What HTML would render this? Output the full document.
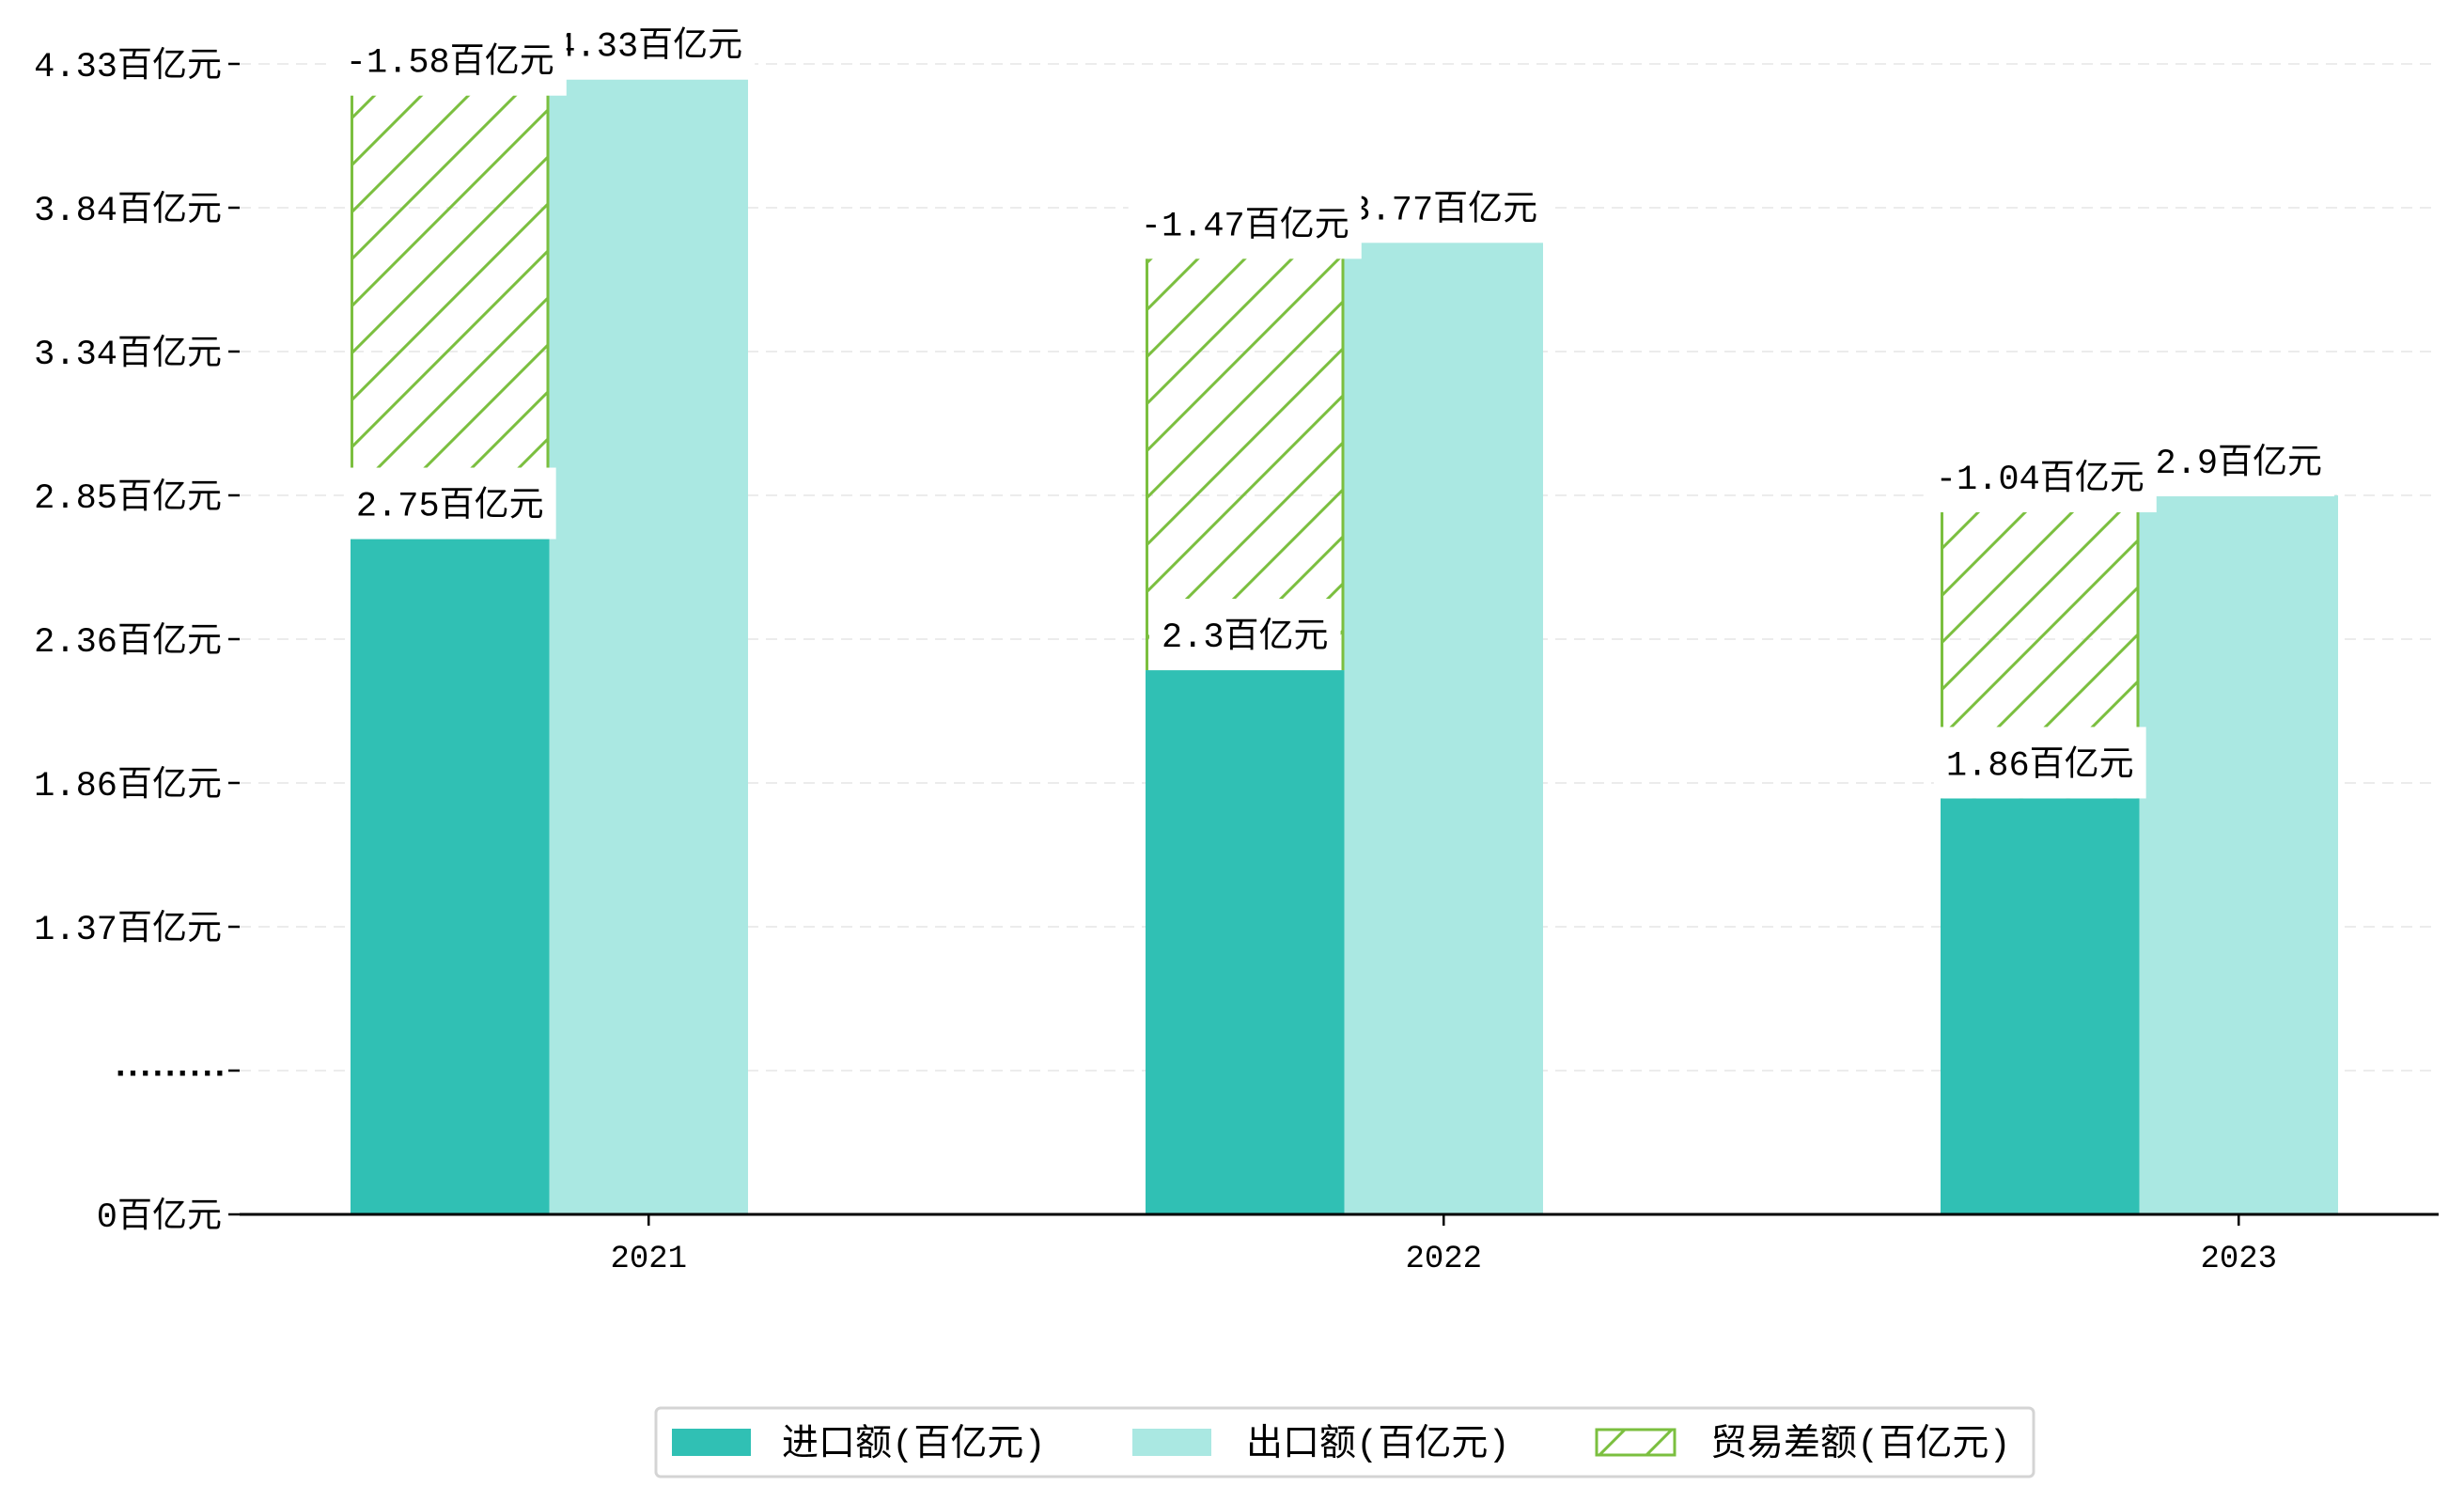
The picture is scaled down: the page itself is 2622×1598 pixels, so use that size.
<!DOCTYPE html>
<html><head><meta charset="utf-8"><style>
html,body{margin:0;padding:0;background:#fff;}
svg{display:block;font-family:"Liberation Mono","WenQuanYi Zen Hei","Noto Sans CJK SC",monospace;}
</style></head><body>
<svg id="chart" width="2622" height="1598" viewBox="0 0 2622 1598" xmlns="http://www.w3.org/2000/svg">
<defs>
<pattern id="hatch" patternUnits="userSpaceOnUse" width="50" height="50">
<line x1="-5" y1="55" x2="55" y2="-5" stroke="#7bbf3f" stroke-width="3"/>
<line x1="-5" y1="5" x2="5" y2="-5" stroke="#7bbf3f" stroke-width="3"/>
<line x1="45" y1="55" x2="55" y2="45" stroke="#7bbf3f" stroke-width="3"/>
</pattern>
</defs>
<g id="grid"></g>
<g id="bars"></g>
<g id="labels"></g>
<g id="axes"></g>
<g>
<rect x="698" y="1498" width="1466" height="73" rx="5" fill="#fff" stroke="#d4d4d4" stroke-width="3"/>
<g>
<rect x="715" y="1520" width="84" height="29" fill="#30c0b4"/>
<text x="832" y="1548" font-size="39">进口额(百亿元)</text></g>
<g>
<rect x="1205" y="1520" width="84" height="29" fill="#aae8e2"/>
<text x="1326" y="1548" font-size="39">出口额(百亿元)</text></g>
<g>
<rect x="1699" y="1521" width="83" height="27" fill="url(#hatch)" stroke="#7bbf3f" stroke-width="3"/>
<text x="1820" y="1548" font-size="39">贸易差额(百亿元)</text></g>
</g>
</svg>
<script>
const categories = ["2021","2022","2023"];
const importVals = [2.75, 2.3, 1.86];
const exportVals = [4.33, 3.77, 2.9];
const balanceVals = [-1.58, -1.47, -1.04];
const yTickLabels = ["0百亿元","·········","1.37百亿元","1.86百亿元","2.36百亿元","2.85百亿元","3.34百亿元","3.84百亿元","4.33百亿元"];

const NS="http://www.w3.org/2000/svg";
const Y0=1292, XL=255, XR=2595, TICKSTEP=153;
const K=310, VOFF=0.4324;
const BW=211.5, X0=373, STEP=846;
function yv(v){return Y0-(v-VOFF)*K;}
function xc(i){return X0+i*STEP;}
function mk(tag,attrs,parent){const e=document.createElementNS(NS,tag);for(const k in attrs)e.setAttribute(k,attrs[k]);parent.appendChild(e);return e;}
const grid=document.getElementById('grid'),bars=document.getElementById('bars'),labels=document.getElementById('labels'),axes=document.getElementById('axes');
function fmt(v){return v+"百亿元";}

yTickLabels.forEach((t,i)=>{
  const y=Y0-i*TICKSTEP;
  if(i>0){const g=mk('line',{x1:XL,x2:XR,y1:y,y2:y,stroke:'#ececec','stroke-width':2,'stroke-dasharray':'12,8'},grid);
  
  }
  const tk=mk('line',{x1:XL-12,x2:XL,y1:y,y2:y,stroke:'#000','stroke-width':2.5},axes);
  
  
  const tx=mk('text',{x:236,y:y+13,'font-size':37,'text-anchor':'end'},axes);
  
  
  if(t.indexOf('·')===0){tx.setAttribute('letter-spacing','-9');tx.setAttribute('font-weight','bold');}
  tx.textContent=t;
});

function labelBox(txt,cx,cy,name){
  const g=mk('g',{},labels);
  
  
  const r=mk('rect',{fill:'#fff'},g);
  const t=mk('text',{x:cx,y:cy+13,'font-size':37,'text-anchor':'middle'},g);
  t.textContent=txt;
  const b=t.getBBox();
  r.setAttribute('x',b.x-13);r.setAttribute('width',b.width+26);
  r.setAttribute('y',cy-38);r.setAttribute('height',76);
}

categories.forEach((c,i)=>{
  const x=xc(i);
  const yi=yv(importVals[i]), ye=yv(exportVals[i]);
  const b1=mk('rect',{x:x,y:yi,width:BW,height:Y0-yi,fill:'#30c0b4'},bars);
  
  
  const b2=mk('rect',{x:x+BW,y:ye,width:BW,height:Y0-ye,fill:'#aae8e2'},bars);
  
  
  const yb=yv(importVals[i]-balanceVals[i]);
  const b3=mk('rect',{x:x,y:yb,width:BW,height:yi-yb,fill:'url(#hatch)'},bars);
  
  
  mk('line',{x1:x+1.5,x2:x+1.5,y1:yb,y2:yi,stroke:'#7bbf3f','stroke-width':3},bars);
  mk('line',{x1:x+BW-1.5,x2:x+BW-1.5,y1:yb,y2:yi,stroke:'#7bbf3f','stroke-width':3},bars);
  labelBox(fmt(exportVals[i]),x+1.5*BW,ye-37,'label-export-'+c);
  labelBox(fmt(importVals[i]),x+BW/2,yi-38,'label-import-'+c);
  labelBox(fmt(balanceVals[i]),x+BW/2,yb-20,'label-balance-'+c);
  const tx=x+1.5*BW;
  const xt=mk('line',{x1:tx,x2:tx,y1:Y0,y2:Y0+12,stroke:'#000','stroke-width':2.5},axes);
  
  
  const xl=mk('text',{x:tx,y:Y0+56,'font-size':34,'text-anchor':'middle'},axes);
  
  
  xl.textContent=c;
});
const ax=mk('line',{x1:XL,x2:XR,y1:Y0,y2:Y0,stroke:'#000','stroke-width':3},axes);


</script>
</body></html>
